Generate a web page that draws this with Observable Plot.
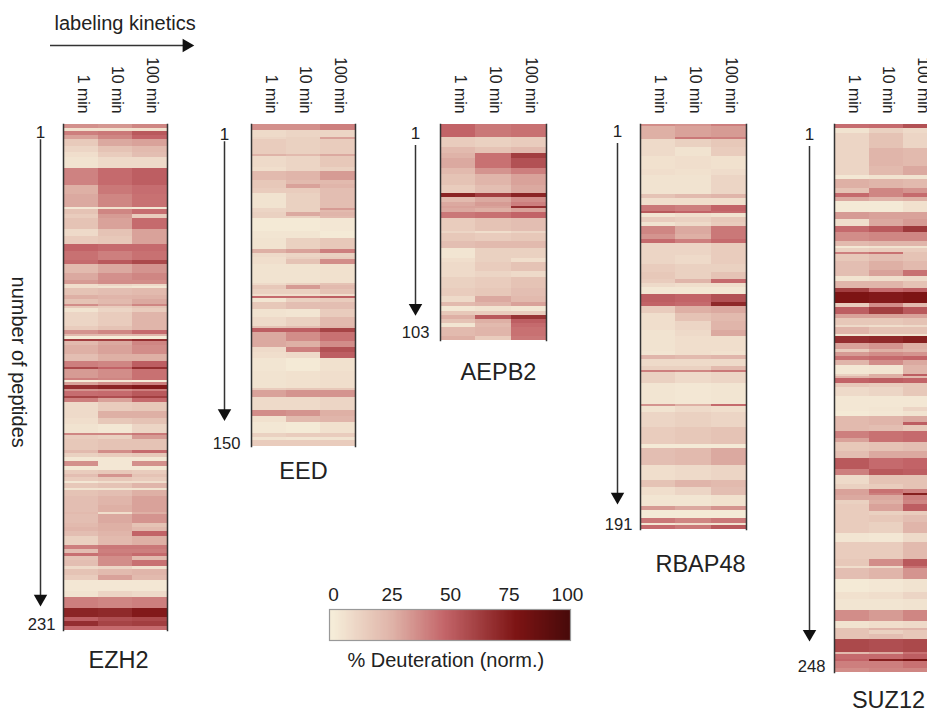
<!DOCTYPE html>
<html>
<head>
<meta charset="utf-8">
<script src="https://cdn.jsdelivr.net/npm/d3@7"></script>
<script src="https://cdn.jsdelivr.net/npm/@observablehq/plot@0.6"></script>
<style>
html,body{margin:0;padding:0;background:#fff}
#page{position:relative;width:927px;height:711px;overflow:hidden;background:#fff;font-family:"Liberation Sans",Arial,sans-serif}
#page svg{position:absolute;max-width:none;background:transparent}
g[aria-label="cell"]{filter:blur(.5px)}
</style>
</head>
<body>
<div id="page"></div>
<script>
const timepoints = ["1 min", "10 min", "100 min"];
const legendTicks = [0, 25, 50, 75, 100];
const colorStops = [0, 25, 47, 78, 100];
const colorRange = ["#f5ecd8", "#dfb3a8", "#c4666a", "#7d1414", "#4a0a0a"];

// Each row: first peptide of a run of similar rows, then % deuteration at 1, 10, 100 min.
const ezh2Count = 231;
const ezh2Bands = [[1,35,33,38],[3,5,5,5],[4,40,42,52],[6,30,38,48],[8,15,28,30],[11,10,18,22],[14,6,14,20],[16,4,8,8],[21,39,46,50],[29,26,42,45],[33,28,38,44],[39,2,5,2],[40,18,38,45],[42,14,32,14],[44,18,30,46],[49,8,18,30],[52,14,16,30],[56,48,46,46],[59,44,40,44],[63,46,52,58],[65,22,28,34],[69,28,35,38],[72,32,36,36],[74,6,10,8],[75,6,4,2],[76,18,20,22],[79,26,24,25],[81,18,22,28],[83,36,28,38],[84,16,14,18],[85,4,10,14],[87,10,14,24],[93,14,18,24],[95,34,38,46],[97,22,22,24],[98,0,0,0],[99,62,62,68],[100,22,28,38],[102,26,30,36],[106,20,26,26],[109,40,38,50],[112,58,48,68],[113,32,36,44],[117,40,38,44],[118,0,2,0],[119,30,36,40],[120,68,72,76],[122,34,36,40],[123,45,46,52],[125,60,56,62],[126,40,30,46],[128,8,14,16],[132,8,26,26],[135,6,16,18],[138,4,2,10],[142,38,38,42],[143,14,12,32],[145,16,18,18],[150,22,36,46],[151,12,14,16],[153,2,2,2],[155,35,2,35],[157,2,2,2],[159,14,16,14],[161,20,34,18],[162,14,16,14],[164,2,6,6],[165,16,18,24],[167,4,4,4],[168,18,20,26],[171,20,24,30],[175,20,26,30],[178,22,6,26],[179,20,28,34],[183,22,26,18],[185,24,26,22],[187,20,24,48],[189,12,22,26],[193,40,42,42],[195,20,40,40],[197,44,42,46],[198,18,36,22],[200,20,36,44],[203,8,10,4],[204,18,22,24],[207,14,30,22],[209,2,2,2],[214,4,10,8],[217,40,38,40],[222,72,70,76],[226,50,56,58],[228,68,60,62],[230,46,46,46]];

const eedCount = 150;
const eedBands = [[1,35,35,40],[4,8,10,10],[7,10,12,30],[8,14,12,14],[15,25,22,28],[16,8,10,16],[21,6,10,12],[23,22,24,32],[27,16,22,22],[29,16,30,24],[31,14,14,20],[33,4,12,20],[40,10,12,32],[41,10,12,22],[42,12,28,24],[44,12,12,22],[45,1,1,2],[51,3,3,1],[54,4,12,16],[59,26,30,40],[61,8,10,12],[63,6,12,14],[64,6,18,36],[66,4,4,5],[75,8,12,18],[76,16,32,22],[78,12,12,18],[80,6,6,6],[81,46,46,50],[82,3,12,14],[84,16,20,20],[87,4,3,14],[91,8,12,22],[95,18,20,24],[96,50,50,60],[98,28,36,44],[102,28,26,36],[105,8,40,55],[107,6,8,50],[110,3,1,5],[116,4,5,6],[124,14,16,16],[125,30,34,34],[128,8,8,10],[134,36,34,26],[137,5,22,24],[140,2,1,5],[145,12,14,14],[147,4,3,4],[148,14,14,14]];

const aepb2Count = 103;
const aepb2Bands = [[1,48,42,44],[7,14,12,14],[12,22,18,22],[15,25,44,62],[17,28,44,55],[22,22,34,40],[25,18,24,30],[30,14,20,28],[34,72,62,72],[36,22,28,36],[38,28,32,40],[40,30,30,68],[41,28,26,30],[43,42,44,48],[46,14,18,20],[52,10,6,10],[53,16,14,16],[57,20,22,22],[60,3,12,12],[65,6,12,6],[67,8,14,18],[71,8,10,8],[74,12,14,18],[79,14,16,20],[83,8,28,22],[86,22,24,30],[88,2,4,2],[90,16,14,14],[92,26,52,66],[94,18,26,50],[96,3,22,46],[98,22,24,44],[102,26,14,42]];

const rbap48Count = 191;
const rbap48Bands = [[1,36,34,40],[2,26,30,32],[7,26,42,40],[8,8,12,16],[12,8,4,14],[16,5,6,5],[22,6,5,7],[25,4,4,10],[34,18,22,24],[36,6,6,6],[39,42,40,48],[42,52,48,46],[43,3,6,4],[45,14,12,16],[47,4,8,14],[49,38,28,42],[53,34,26,42],[55,46,40,46],[57,10,10,14],[63,10,8,14],[67,14,12,12],[71,16,12,18],[74,14,24,46],[76,8,6,6],[78,2,2,2],[81,50,48,55],[85,48,46,70],[87,14,26,28],[90,6,18,22],[94,6,10,24],[98,4,8,28],[101,4,6,6],[108,3,6,5],[110,24,22,24],[112,8,8,8],[115,12,12,22],[117,40,38,42],[118,12,8,10],[123,3,2,3],[133,34,26,46],[134,4,8,6],[137,10,12,10],[144,14,16,18],[152,1,1,1],[154,20,22,28],[162,6,8,10],[169,18,24,22],[172,6,10,20],[176,3,3,5],[181,32,28,34],[183,1,1,1],[187,42,38,42],[189,2,6,4],[190,46,42,52]];

const suz12Count = 248;
const suz12Bands = [[1,45,46,55],[3,4,12,8],[5,10,18,10],[12,10,24,22],[20,10,22,28],[24,2,4,4],[26,26,24,22],[30,18,38,34],[32,46,38,46],[34,28,24,26],[36,1,1,5],[41,32,30,30],[44,6,28,32],[47,46,52,64],[50,36,38,38],[54,22,24,24],[56,2,4,4],[57,12,14,14],[59,40,44,18],[60,16,20,18],[63,20,26,22],[67,20,30,44],[70,4,6,8],[72,24,24,18],[75,62,46,50],[77,78,76,78],[82,14,36,22],[84,50,62,52],[87,30,30,30],[89,16,16,18],[92,8,6,8],[93,24,18,18],[96,2,4,4],[97,68,70,74],[100,30,34,26],[103,14,26,24],[104,32,36,34],[106,44,46,48],[108,24,36,28],[110,2,3,24],[114,12,26,50],[115,24,26,22],[116,48,50,48],[118,16,14,16],[120,8,10,16],[124,2,2,2],[129,2,3,10],[131,1,2,4],[133,22,24,28],[136,22,24,50],[137,22,20,16],[140,40,44,46],[143,30,44,46],[145,16,18,20],[149,20,28,28],[152,52,46,48],[157,40,52,50],[160,8,18,18],[164,12,14,18],[166,30,44,40],[168,30,40,74],[169,28,28,40],[171,12,26,38],[173,14,30,50],[176,14,12,14],[178,14,16,20],[181,14,12,24],[186,3,2,8],[190,14,14,22],[198,16,36,52],[201,6,8,44],[202,20,24,34],[207,1,2,4],[213,5,6,10],[216,3,3,4],[221,36,32,38],[226,4,6,8],[229,18,24,24],[230,18,12,16],[232,18,20,16],[234,58,56,58],[240,22,28,44],[241,46,46,50],[243,48,74,80],[244,40,40,44],[247,36,38,38]];

const page = document.getElementById("page");
const colorOpts = {type: "linear", domain: colorStops, range: colorRange, interpolate: "rgb", clamp: true};
const ink = "#222";
const mLeft = 60, mTop = 70, mBottom = 50, mRight = 3;

function place(svg, left, top) {
  svg.style.left = left + "px";
  svg.style.top = top + "px";
  page.appendChild(svg);
}

function panel(name, count, bands, lay) {
  const rows = [];
  bands.forEach((b, i) => {
    const end = i + 1 < bands.length ? bands[i + 1][0] : count + 1;
    for (let p = b[0]; p < end; ++p) {
      timepoints.forEach((t, j) => rows.push({peptide: p, time: t, value: b[j + 1]}));
    }
  });
  const colW = lay.w / 3;
  const offs = -(colW / 2 + lay.gap);
  const marks = [
    Plot.cell(rows, {x: "time", y: "peptide", fill: "value", shapeRendering: "crispEdges"}),
    Plot.frame({anchor: "left", stroke: "#333", strokeWidth: 1.5}),
    Plot.frame({anchor: "right", stroke: "#333", strokeWidth: 1.5}),
    Plot.axisX({anchor: "top", tickRotate: 90, tickSize: 0, tickPadding: 11, fontSize: 15.8, label: null, fill: ink, dx: 2}),
    Plot.ruleX([timepoints[0]], {x: d => d, y1: () => lay.arrowFrom, y2: () => lay.arrowTo, dx: offs, stroke: "#333", strokeWidth: 1.5}),
    Plot.dot([lay.arrowTo], {x: () => timepoints[0], y: d => d, dx: offs, symbol: "triangle", r: 5, rotate: 180, fill: "#111", stroke: "none"}),
    Plot.text(["1"], {x: () => timepoints[0], y: () => lay.oneAt, dx: offs, text: d => d, fontSize: 17, fill: ink}),
    Plot.text([String(count)], {x: () => timepoints[0], y: () => lay.countAt, dx: -(colW / 2 + lay.countGap), text: d => d, textAnchor: "end", fontSize: 16.6, fill: ink}),
    Plot.text([name], {x: () => timepoints[1], y: () => count, dx: lay.titleDx, dy: lay.titleDy, text: d => d, fontSize: 23.5, fill: ink})
  ];
  if (lay.sideLabel) marks.push(Plot.text([lay.sideLabel], {frameAnchor: "left", y: () => lay.sideAt, dx: -45, rotate: 90, textAnchor: "middle", text: d => d, fontSize: 20, fill: ink}));
  const svg = Plot.plot({
    width: mLeft + lay.w + mRight,
    height: mTop + lay.h + mBottom,
    marginLeft: mLeft, marginRight: mRight, marginTop: mTop, marginBottom: mBottom,
    x: {type: "band", domain: timepoints, padding: 0, round: false, axis: null},
    y: {type: "band", domain: d3.range(1, count + 1), padding: 0, round: false, axis: null},
    color: colorOpts,
    style: {background: "transparent", fontFamily: "'Liberation Sans',Arial,sans-serif"},
    marks
  });
  place(svg, lay.left - mLeft, lay.top - mTop);
}

panel("EZH2", ezh2Count, ezh2Bands,
  {left: 63, top: 124, w: 104, h: 506, gap: 23, arrowFrom: 8, arrowTo: 217, oneAt: 4, countAt: 229, countGap: 8, titleDx: 3, titleDy: 31, sideLabel: "number of peptides", sideAt: 109});
panel("EED", eedCount, eedBands,
  {left: 251, top: 124, w: 104, h: 322, gap: 27, arrowFrom: 9, arrowTo: 135, oneAt: 5, countAt: 149, countGap: 11, titleDx: 0, titleDy: 26});
panel("AEPB2", aepb2Count, aepb2Bands,
  {left: 440, top: 124, w: 106, h: 216, gap: 25, arrowFrom: 11, arrowTo: 88, oneAt: 5, countAt: 100, countGap: 11, titleDx: 5, titleDy: 33});
panel("RBAP48", rbap48Count, rbap48Bands,
  {left: 640, top: 124, w: 106, h: 405, gap: 23, arrowFrom: 10, arrowTo: 176, oneAt: 4, countAt: 189, countGap: 8, titleDx: 7, titleDy: 36});
panel("SUZ12", suz12Count, suz12Bands,
  {left: 834, top: 124, w: 104, h: 548, gap: 25, arrowFrom: 11, arrowTo: 231, oneAt: 5, countAt: 246, countGap: 9, titleDx: 2, titleDy: 29});

// Direction arrow for labeling kinetics
const kineticsSpan = [0, 1];
place(Plot.plot({
  width: 170, height: 60, marginLeft: 12, marginRight: 16, marginTop: 0, marginBottom: 0,
  x: {domain: kineticsSpan, axis: null}, y: {domain: [0, 1], axis: null},
  style: {background: "transparent", fontFamily: "'Liberation Sans',Arial,sans-serif"},
  marks: [
    Plot.text(["labeling kinetics"], {x: () => 0, frameAnchor: "top", dx: 2, dy: 15, textAnchor: "start", text: d => d, fontSize: 20, fill: ink}),
    Plot.ruleY([0], {x1: kineticsSpan[0], x2: kineticsSpan[1], y: () => 0.25, dx: -2, stroke: "#333", strokeWidth: 1.5}),
    Plot.dot([1], {x: d => d, y: () => 0.25, symbol: "triangle", r: 5, rotate: 90, fill: "#111", stroke: "none", dx: -8})
  ]
}), 40, 0);

// Colour bar
const legendSteps = d3.range(-2, 102, 0.5);
place(Plot.plot({
  width: 281, height: 110, marginLeft: 20, marginRight: 20, marginTop: 34, marginBottom: 45,
  x: {domain: [-1.7, 101.3], axis: null}, y: {domain: [0, 1], axis: null},
  color: colorOpts,
  style: {background: "transparent", fontFamily: "'Liberation Sans',Arial,sans-serif"},
  marks: [
    Plot.rect(legendSteps, {x1: d => d, x2: d => d + 0.5, y1: () => 0, y2: () => 1, fill: d => Math.max(0, d), clip: true, shapeRendering: "crispEdges"}),
    Plot.frame({stroke: "#999", strokeWidth: 1.2}),
    Plot.text(legendTicks, {x: d => d, frameAnchor: "top", dy: -22, text: d => String(d), fontSize: 19, fill: ink}),
    Plot.text(["% Deuteration (norm.)"], {x: () => 48, frameAnchor: "bottom", dy: 26, text: d => d, fontSize: 20, fill: ink})
  ]
}), 309, 575);
</script>
</body>
</html>
